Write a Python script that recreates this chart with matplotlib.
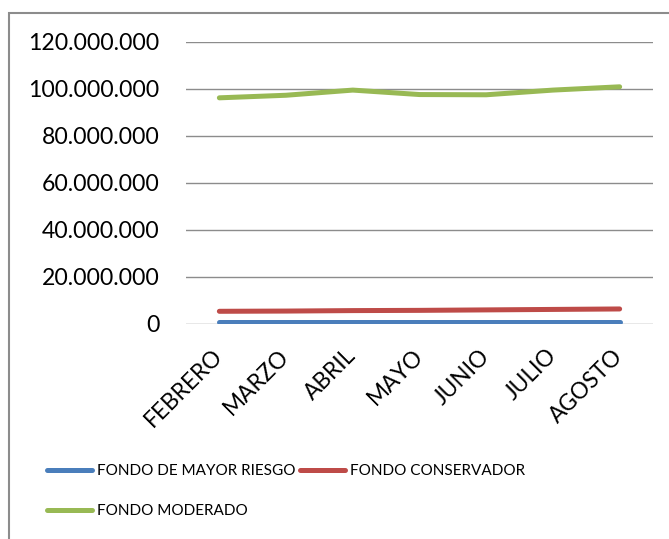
import matplotlib
matplotlib.use("Agg")
import matplotlib.pyplot as plt
from matplotlib.patches import Rectangle
from matplotlib.ticker import FuncFormatter, MultipleLocator

# Monthly balances per fund
meses = ["FEBRERO", "MARZO", "ABRIL", "MAYO", "JUNIO", "JULIO", "AGOSTO"]
mayor_riesgo = [700000, 700000, 700000, 700000, 700000, 700000, 700000]
conservador = [5200000, 5300000, 5500000, 5600000, 5800000, 6000000, 6200000]
moderado = [96200000, 97300000, 99500000, 97600000, 97500000, 99500000, 100900000]

plt.rcParams["font.family"] = ["Lato", "DejaVu Sans"]

W, H, DPI = 669, 539, 100
fig = plt.figure(figsize=(W / DPI, H / DPI), dpi=DPI)

# Chart-area frame
fig.patches.append(Rectangle((9 / W, -0.05), 1.2, 1 - 13 / H + 0.05,
                             transform=fig.transFigure, fill=False,
                             edgecolor="#8c8c8c", linewidth=1.5))

ax = fig.add_axes([186 / W, 1 - 323.5 / H, (653 - 186) / W, (323.5 - 42) / H])

x = range(len(meses))
l1, = ax.plot(x, mayor_riesgo, color="#4A7EBB", lw=3.6, solid_capstyle="round",
              label="FONDO DE MAYOR RIESGO", zorder=3)
l2, = ax.plot(x, conservador, color="#BE4B48", lw=3.6, solid_capstyle="round",
              label="FONDO CONSERVADOR", zorder=3)
l3, = ax.plot(x, moderado, color="#98B954", lw=3.6, solid_capstyle="round",
              label="FONDO MODERADO", zorder=3)

ax.set_xlim(-0.5, len(meses) - 0.5)
ax.set_ylim(0, 120000000)
ax.yaxis.set_major_locator(MultipleLocator(20000000))
ax.yaxis.set_major_formatter(FuncFormatter(lambda v, p: f"{int(v):,}".replace(",", ".")))
ax.grid(axis="y", color="#8c8c8c", lw=1.0)
ax.set_axisbelow(True)
for s in ax.spines.values():
    s.set_visible(False)

ax.set_xticks(list(x))
ax.set_xticklabels(meses, rotation=45, rotation_mode="anchor", ha="right", va="center")
ax.tick_params(axis="x", length=0, pad=21, labelsize=16.3)
ax.tick_params(axis="y", length=0, pad=19, labelsize=16.6)

fig.legend([l1, l3, l2], [l1.get_label(), l3.get_label(), l2.get_label()],
           ncol=2, loc="upper left", bbox_to_anchor=(47 / W, 1 - 464 / H),
           frameon=False, fontsize=11, handlelength=2.95, handletextpad=0.33,
           columnspacing=0.3, labelspacing=1.7, borderaxespad=0, borderpad=0)

fig.savefig("out.png", dpi=DPI)
